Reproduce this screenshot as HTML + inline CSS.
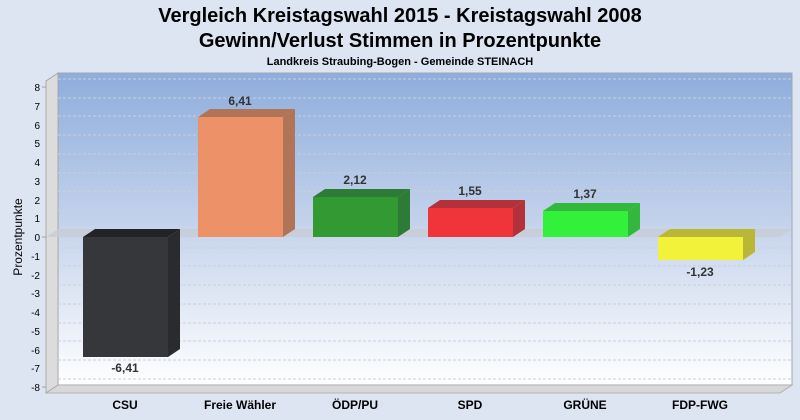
<!DOCTYPE html>
<html><head><meta charset="utf-8"><style>
html,body{margin:0;padding:0;background:#dde4f2;}
svg{display:block;font-family:"Liberation Sans",Arial,sans-serif;}
</style></head><body>
<svg width="800" height="420" viewBox="0 0 800 420">
<defs>
<linearGradient id="bg" x1="0" y1="0" x2="0" y2="1">
<stop offset="0" stop-color="#8eaddc"/><stop offset="0.5" stop-color="#c6d4ec"/><stop offset="1" stop-color="#ffffff"/>
</linearGradient>
</defs>
<rect width="800" height="420" fill="#dde4f2"/>
<text x="400" y="22" text-anchor="middle" font-size="20" font-weight="bold" fill="#000">Vergleich Kreistagswahl 2015 - Kreistagswahl 2008</text>
<text x="400" y="47" text-anchor="middle" font-size="20" font-weight="bold" fill="#000">Gewinn/Verlust Stimmen in Prozentpunkte</text>
<text x="400" y="65" text-anchor="middle" font-size="11" font-weight="bold" fill="#000">Landkreis Straubing-Bogen - Gemeinde STEINACH</text>
<!-- back wall -->
<rect x="58" y="73" width="734" height="312" fill="url(#bg)" stroke="#a0a8b8" stroke-width="1"/>
<!-- left wall -->
<polygon points="46,81 58,73 58,385 46,393" fill="#dcdcdc" stroke="#a0a0a0" stroke-width="0.8"/>
<!-- floor -->
<polygon points="46,393 58,385 792,385 780,393" fill="#d8d8d8" stroke="#a8a8a8" stroke-width="0.8"/>
<g stroke="#c8d0dc" stroke-dasharray="3,2" stroke-width="1">
<line x1="58" y1="79" x2="792" y2="79"/><line x1="58" y1="98" x2="792" y2="98"/><line x1="58" y1="116" x2="792" y2="116"/><line x1="58" y1="135" x2="792" y2="135"/><line x1="58" y1="154" x2="792" y2="154"/><line x1="58" y1="173" x2="792" y2="173"/><line x1="58" y1="191" x2="792" y2="191"/><line x1="58" y1="210" x2="792" y2="210"/><line x1="58" y1="248" x2="792" y2="248"/><line x1="58" y1="266" x2="792" y2="266"/><line x1="58" y1="285" x2="792" y2="285"/><line x1="58" y1="304" x2="792" y2="304"/><line x1="58" y1="323" x2="792" y2="323"/><line x1="58" y1="341" x2="792" y2="341"/><line x1="58" y1="360" x2="792" y2="360"/><line x1="58" y1="379" x2="792" y2="379"/>
</g>
<!-- zero band -->
<polygon points="46,237 58,229 792,229 780,237" fill="#c8ccd4" opacity="0.8"/>
<!-- y axis labels -->
<g font-size="10" fill="#000" text-anchor="end">
<text x="40" y="91">8</text><text x="40" y="110">7</text><text x="40" y="129">6</text><text x="40" y="147">5</text><text x="40" y="166">4</text><text x="40" y="185">3</text><text x="40" y="204">2</text><text x="40" y="222">1</text><text x="40" y="241">0</text><text x="40" y="260">-1</text><text x="40" y="279">-2</text><text x="40" y="297">-3</text><text x="40" y="316">-4</text><text x="40" y="335">-5</text><text x="40" y="354">-6</text><text x="40" y="372">-7</text><text x="40" y="391">-8</text>
</g>
<g stroke="#a0a0a0" stroke-width="1">
<line x1="42" y1="87" x2="46" y2="87"/><line x1="42" y1="237" x2="46" y2="237"/><line x1="42" y1="387" x2="46" y2="387"/>
</g>
<text transform="translate(22,237) rotate(-90)" text-anchor="middle" font-size="12" fill="#000">Prozentpunkte</text>
<!-- bars -->
<!-- CSU negative -->
<polygon points="83,237 95,229 180,229 168,237" fill="#222326"/>
<polygon points="168,237 180,229 180,349 168,357" fill="#2a2b2e"/>
<rect x="83" y="237" width="85" height="120" fill="#36373b"/>
<!-- Freie -->
<polygon points="198,117 210,109 295,109 283,117" fill="#b07458"/>
<polygon points="283,117 295,109 295,229 283,237" fill="#b07458"/>
<rect x="198" y="117" width="85" height="120" fill="#ed9268"/>
<!-- ODP -->
<polygon points="313,197 325,189 410,189 398,197" fill="#2e7a37"/>
<polygon points="398,197 410,189 410,229 398,237" fill="#2e7a37"/>
<rect x="313" y="197" width="85" height="40" fill="#339933"/>
<!-- SPD -->
<polygon points="428,208 440,200 525,200 513,208" fill="#b3313a"/>
<polygon points="513,208 525,200 525,229 513,237" fill="#b3313a"/>
<rect x="428" y="208" width="85" height="29" fill="#ef3539"/>
<!-- GRUENE -->
<polygon points="543,211 555,203 640,203 628,211" fill="#33b83e"/>
<polygon points="628,211 640,203 640,229 628,237" fill="#33b83e"/>
<rect x="543" y="211" width="85" height="26" fill="#33f03a"/>
<!-- FDP negative -->
<polygon points="658,237 670,229 755,229 743,237" fill="#bab636"/>
<polygon points="743,237 755,229 755,252 743,260" fill="#bab636"/>
<rect x="658" y="237" width="85" height="23" fill="#f2f23a"/>
<!-- value labels -->
<g font-size="12" font-weight="bold" fill="#333" text-anchor="middle">
<text x="125" y="372">-6,41</text>
<text x="240" y="105">6,41</text>
<text x="355" y="184">2,12</text>
<text x="470" y="195">1,55</text>
<text x="585" y="198">1,37</text>
<text x="700" y="276">-1,23</text>
</g>
<g font-size="12" font-weight="bold" fill="#000" text-anchor="middle">
<text x="125" y="409">CSU</text>
<text x="240" y="409">Freie Wähler</text>
<text x="355" y="409">ÖDP/PU</text>
<text x="470" y="409">SPD</text>
<text x="585" y="409">GRÜNE</text>
<text x="700" y="409">FDP-FWG</text>
</g>
</svg>
</body></html>
